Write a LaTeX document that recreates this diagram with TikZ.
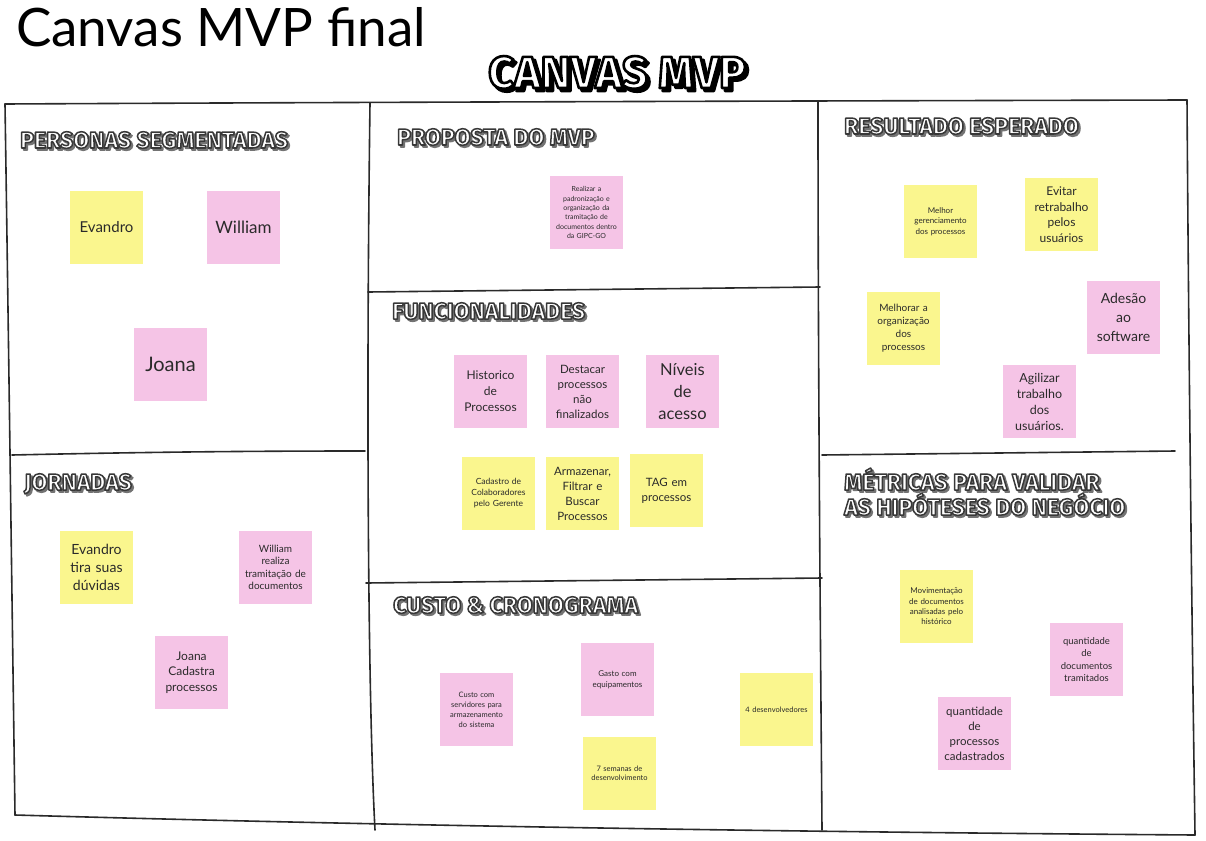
\documentclass[tikz,border=0pt]{standalone}
\usepackage{fontspec}
\setmainfont{Lato}
\newfontfamily\headfont{Fira Sans}
\definecolor{ylw}{HTML}{FAF68E}
\definecolor{pnk}{HTML}{F5C4E6}
\definecolor{ink}{HTML}{2A2A2A}
\tikzset{
  sk/.style={draw=none, minimum width=73pt, minimum height=73pt, inner sep=0pt, align=center, text width=72pt, text=ink},
  yel/.style={sk, fill=ylw},
  pnk/.style={sk, fill=pnk},
  frame/.style={draw=ink, line width=1.6pt, line cap=round},
  hd/.style={anchor=base west, inner sep=0pt},
}
\newcommand\fs[2]{\fontsize{#1}{#2}\selectfont}
\newcommand\strk[2]{\special{pdf:literal direct 2 Tr 1 j #2 w #1 #1 #1 RG}}
\newcommand\unstrk{\special{pdf:literal direct 0 Tr}}
% #1 name, #2 x, #3 y, #4 size, #5 outline grey, #6 shadow grey, #7 shadow offset, #8 stroke width, #9 text
\newcommand\hdr[9]{%
  \node[hd, text={rgb,1:red,#6;green,#6;blue,#6}, font=\headfont\bfseries\fs{#4}{#4}] (#1s) at (#2+#7,#3+#7) {\strk{#6}{#8}#9\unstrk};
  \node[hd, text=white, font=\headfont\bfseries\fs{#4}{#4}] (#1) at (#2,#3) {\strk{#5}{#8}#9\unstrk};
}
\begin{document}
\begin{tikzpicture}[x=1pt,y=-1pt]
\useasboundingbox[fill=white] (0,0) rectangle (1206,840);

% title
\node[anchor=base west, inner sep=0pt, font=\fs{53}{60}, text=black] (title) at (16,47) {Canvas MVP final};

% frame
\draw[frame] (5,104) .. controls (400,102) and (800,101) .. (1187,100);
\draw[frame] (5,104) .. controls (8,300) and (12,600) .. (15,815);
\draw[frame] (15,815) .. controls (400,826) and (800,832) .. (1195,835);
\draw[frame] (1187,100) .. controls (1189,400) and (1193,700) .. (1195,835);
\draw[frame] (370,103) .. controls (366,400) and (368,700) .. (375,830);
\draw[frame] (818,102) .. controls (818,400) and (821,700) .. (822,830);
\draw[frame] (12,455) .. controls (150,452) and (250,451) .. (365,451);
\draw[frame] (368,292) -- (820,287);
\draw[frame] (366,583) -- (822,578);
\draw[frame] (822,455) -- (1175,451);

% headers
\hdr{hmain}{488}{88}{45}{0}{0}{3}{2.6}{CANVAS MVP}
\hdr{hpers}{20}{148}{23}{0.22}{0.45}{2}{1.5}{PERSONAS SEGMENTADAS}
\hdr{hprop}{397}{145}{23}{0.22}{0.45}{2}{1.5}{PROPOSTA DO MVP}
\hdr{hfunc}{392}{319}{23}{0.22}{0.45}{2}{1.5}{FUNCIONALIDADES}
\hdr{hcust}{393}{613}{23}{0.22}{0.45}{2}{1.5}{CUSTO \& CRONOGRAMA}
\hdr{hres}{844}{134}{23}{0.22}{0.45}{2}{1.5}{RESULTADO ESPERADO}
\hdr{hjorn}{24}{490}{23}{0.22}{0.45}{2}{1.5}{JORNADAS}
\hdr{hmet}{844}{490}{23}{0.22}{0.45}{2}{1.5}{MÉTRICAS PARA VALIDAR}
\hdr{hmetb}{844}{515}{23}{0.22}{0.45}{2}{1.5}{AS HIPÓTESES DO NEGÓCIO}

% personas
\node[yel, font=\fs{15}{19}] (p1) at (106.5,227.5) {Evandro};
\node[pnk, font=\fs{17}{21}] (p2) at (243.5,227.5) {William};
\node[pnk, font=\fs{20}{24}] (p3) at (170.5,364.5) {Joana};

% jornadas
\node[yel, font=\fs{14}{18}] (j1) at (96.5,567.5) {Evandro\\tira suas\\dúvidas};
\node[pnk, font=\fs{10}{12.5}] (j2) at (275.5,567.5) {William\\realiza\\tramitação de\\documentos};
\node[pnk, font=\fs{12}{15.5}] (j3) at (191.5,672.5) {Joana\\Cadastra\\processos};

% proposta
\node[pnk, font=\fs{7}{9.3}] (m1) at (586.5,212.5) {Realizar a\\padronização e\\organização da\\tramitação de\\documentos dentro\\da GIPC-GO};

% funcionalidades
\node[pnk, font=\fs{12}{16}] (f1) at (490.5,391.5) {Historico\\de\\Processos};
\node[pnk, font=\fs{11.5}{15}] (f2) at (582.5,391.5) {Destacar\\processos\\não\\finalizados};
\node[pnk, font=\fs{16.5}{22}] (f3) at (682.5,391.5) {Níveis\\de\\acesso};
\node[yel, font=\fs{8.5}{11}] (f4) at (498.5,493.5) {Cadastro de\\Colaboradores\\pelo Gerente};
\node[yel, font=\fs{11.5}{15}] (f5) at (582.5,493.5) {Armazenar,\\Filtrar e\\Buscar\\Processos};
\node[yel, font=\fs{11.5}{15}] (f6) at (666.5,490.5) {TAG em\\processos};

% custo
\node[pnk, font=\fs{7.5}{10}] (c1) at (476.5,709.5) {Custo com\\servidores para\\armazenamento\\do sistema};
\node[pnk, font=\fs{8}{11}] (c2) at (617.5,679.5) {Gasto com\\equipamentos};
\node[yel, font=\fs{7.5}{10}] (c3) at (776.5,709.5) {4 desenvolvedores};
\node[yel, font=\fs{7.5}{9.5}] (c4) at (619.5,773.5) {7 semanas de\\desenvolvimento};

% resultado
\node[yel, font=\fs{8}{10.5}] (r1) at (940.5,221.5) {Melhor\\gerenciamento\\dos processos};
\node[yel, font=\fs{12}{15.5}] (r2) at (1061.5,214.5) {Evitar\\retrabalho\\pelos\\usuários};
\node[yel, font=\fs{10}{13}] (r3) at (903.5,328.5) {Melhorar a\\organização\\dos\\processos};
\node[pnk, font=\fs{14}{19}] (r4) at (1123.5,317.5) {Adesão\\ao\\software};
\node[pnk, font=\fs{12.5}{16}] (r5) at (1039.5,401.5) {Agilizar\\trabalho\\dos\\usuários.};

% metricas
\node[yel, font=\fs{8}{10.3}] (k1) at (936.5,606.5) {Movimentação\\de documentos\\analisadas pelo\\histórico};
\node[pnk, font=\fs{9.5}{12.5}] (k2) at (1086.5,659.5) {quantidade\\de\\documentos\\tramitados};
\node[pnk, font=\fs{11.5}{15}] (k3) at (974.5,733.5) {quantidade\\de\\processos\\cadastrados};
\end{tikzpicture}
\end{document}
